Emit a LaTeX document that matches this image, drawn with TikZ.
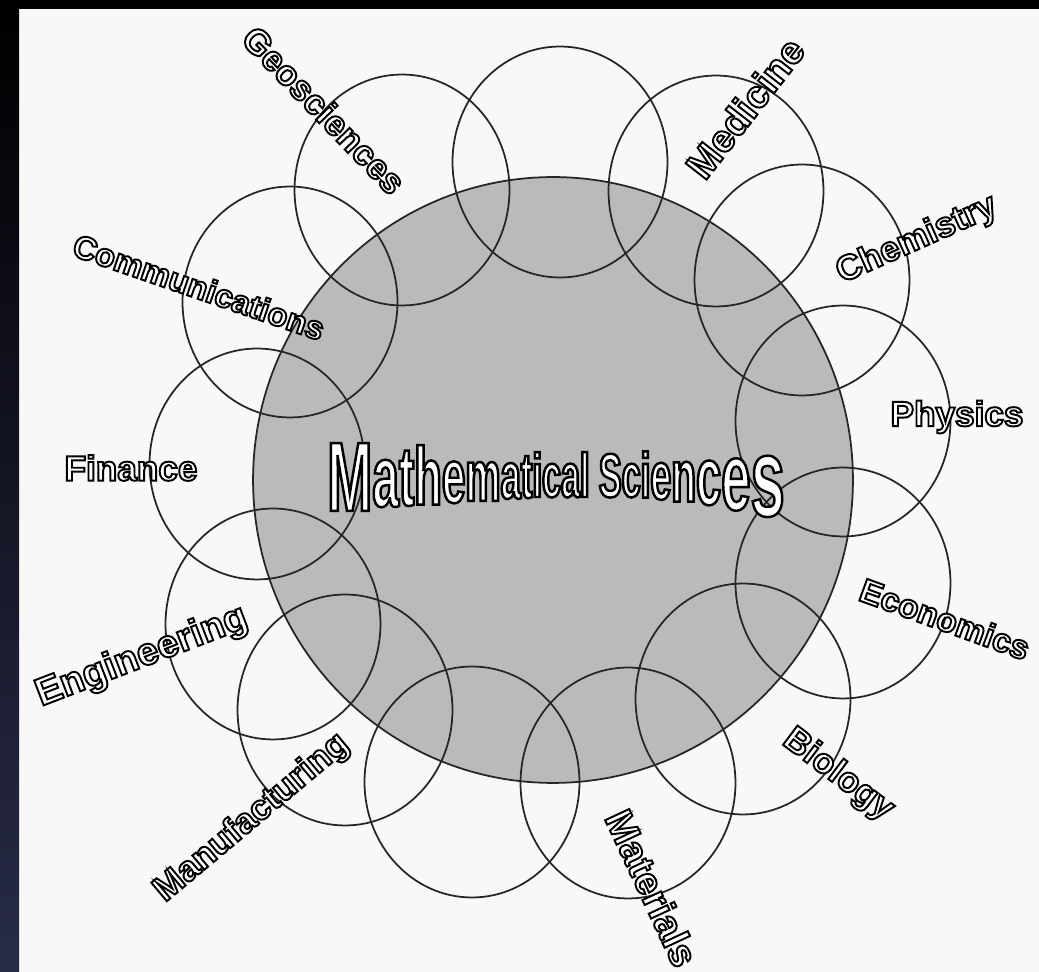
\documentclass[tikz,border=0pt]{standalone}
\usepackage{fontspec}
\setmainfont{Liberation Sans}
\newfontfamily\narrowfont[FakeStretch=0.55]{Liberation Sans}
\usetikzlibrary{shapes.geometric}

\definecolor{paper}{RGB}{248,248,248}
\definecolor{halftone}{RGB}{186,186,186}
\definecolor{margin}{RGB}{40,43,72}

\newcommand\swell[2]{\raisebox{\dimexpr(35.3pt-#1pt)*38/100\relax}{\fontsize{#1}{#1}\selectfont#2}}
\newcommand\rim[2][1.1]{\special{pdf:literal direct 2 Tr 0 G #1 w}#2\special{pdf:literal direct 0 Tr}}

\begin{document}
\begin{tikzpicture}[
    x=0.02cm, y=-0.02cm,
    core/.style={ellipse, draw=black!85, line width=1pt, fill=halftone, minimum width=12cm, minimum height=12.12cm, inner sep=0pt},
    field/.style={ellipse, draw=black!85, line width=1pt, minimum width=4.3cm, minimum height=4.62cm, inner sep=0pt},
    tag/.style={font=\bfseries\fontsize{20}{20}\selectfont, text=white, inner sep=0pt},
    headline/.style={font=\narrowfont\bfseries, text=white, inner sep=0pt, anchor=base}
  ]
  \useasboundingbox (0,0) rectangle (1039,972);
  \fill[paper] (0,0) rectangle (1039,972);
  \shade[top color=black, bottom color=margin] (0,0) rectangle (19,972);
  \fill[black] (0,0) rectangle (1039,9);

  \node[core] (math) at (553,480) {};

  \node[field] (top) at (560,162) {};
  \node[field] (geo) at (402,190) {};
  \node[field] (med) at (716,191) {};
  \node[field] (chem) at (802,280) {};
  \node[field] (phys) at (843,421) {};
  \node[field] (econ) at (843,583) {};
  \node[field] (bio) at (743,699) {};
  \node[field] (mat) at (628,783) {};
  \node[field] (low) at (472,782) {};
  \node[field] (manu) at (345,710) {};
  \node[field] (eng) at (273,624) {};
  \node[field] (fin) at (257,464) {};
  \node[field] (comm) at (290,302) {};

  \node[tag, rotate=-46] (geo-l) at (324,110) {\rim{Geosciences}};
  \node[tag, rotate=52, font=\bfseries\fontsize{22}{22}\selectfont] (med-l) at (745,108) {\rim{Medicine}};
  \node[tag, rotate=24] (chem-l) at (917,240) {\rim{Chemistry}};
  \node[tag] (phys-l) at (957,417) {\rim{Physics}};
  \node[tag, rotate=-20, font=\bfseries\fontsize{19}{19}\selectfont] (econ-l) at (945,619) {\rim{Economics}};
  \node[tag, rotate=-37] (bio-l) at (838,775) {\rim{Biology}};
  \node[tag, rotate=-65, font=\bfseries\fontsize{22}{22}\selectfont] (mat-l) at (652,888) {\rim{Materials}};
  \node[tag, rotate=40] (manu-l) at (252,818) {\rim{Manufacturing}};
  \node[tag, rotate=21, font=\bfseries\fontsize{22}{22}\selectfont] (eng-l) at (142,657) {\rim{Engineering}};
  \node[tag] (fin-l) at (131,468) {\rim{Finance}};
  \node[tag, rotate=-19, font=\bfseries\fontsize{18.5}{18.5}\selectfont] (comm-l) at (199,287) {\rim{Communications}};

  \node[headline] (math-l) at (556,497) {\rim[1.4]{\swell{56}{M}\swell{49.5}{a}\swell{47.8}{t}\swell{46.7}{h}\swell{43.8}{e}\swell{41}{m}\swell{37.6}{a}\swell{36.4}{t}\swell{35.3}{ical S}\swell{35.3}{c}\swell{36.4}{i}\swell{38.7}{e}\swell{42.1}{n}\swell{46.7}{c}\swell{54.6}{e}\swell{63.7}{s}}};
\end{tikzpicture}
\end{document}
